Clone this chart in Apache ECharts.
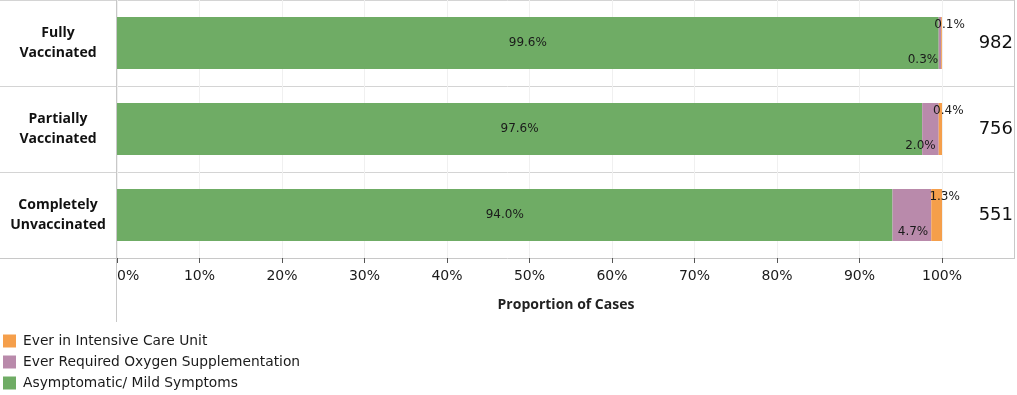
<!DOCTYPE html>
<html><head><meta charset="utf-8">
<script src="https://cdn.jsdelivr.net/npm/echarts@6/dist/echarts.min.js"></script>
<style>html,body{margin:0;padding:0;background:#fff}#c{width:1017px;height:395px}</style>
</head><body><div id="c"></div>
<script>
const categories = ['Fully Vaccinated', 'Partially Vaccinated', 'Completely Unvaccinated'];
const counts = [982, 756, 551];
const mild = [99.6, 97.6, 94.0];
const oxygen = [0.3, 2.0, 4.7];
const icu = [0.1, 0.4, 1.3];
const seriesNames = ['Asymptomatic/ Mild Symptoms', 'Ever Required Oxygen Supplementation', 'Ever in Intensive Care Unit'];
const legendOrder = ['Ever in Intensive Care Unit', 'Ever Required Oxygen Supplementation', 'Asymptomatic/ Mild Symptoms'];
const xTicks = [0, 10, 20, 30, 40, 50, 60, 70, 80, 90, 100];

const FONT = 'DejaVu Sans';
const BOLD = 'Open Sans';
const colors = { green: '#6fac65', purple: '#b98aab', orange: '#f59f4b' };
const lineCol = '#d4d4d4';

const chart = echarts.init(document.getElementById('c'), null, { renderer: 'canvas' });
const lbl = (v) => v.toFixed(1) + '%';

const hLine = (y, x1, x2, c) => ({ type: 'line', shape: { x1, y1: y, x2, y2: y }, style: { stroke: c || lineCol, lineWidth: 1 }, silent: true });
const vLine = (x, y1, y2, c) => ({ type: 'line', shape: { x1: x, y1, x2: x, y2 }, style: { stroke: c || lineCol, lineWidth: 1 }, silent: true });

chart.setOption({
  animation: false,
  textStyle: { fontFamily: FONT },
  title: {
    text: 'Proportion of Cases', left: 561, top: 293, textAlign: 'center',
    textStyle: { fontFamily: BOLD, fontSize: 14, fontWeight: 'bold', color: '#222' }
  },
  legend: {
    orient: 'vertical', left: 3, top: 334, padding: 0, itemWidth: 13, itemHeight: 13, itemGap: 7,
    icon: 'rect', data: legendOrder,
    textStyle: { fontFamily: FONT, fontSize: 13.8, color: '#1a1a1a', padding: [0, 0, 0, 2] }
  },
  grid: { left: 117, right: 75, top: 0, bottom: 137, containLabel: false },
  xAxis: {
    type: 'value', min: xTicks[0], max: xTicks[xTicks.length - 1], interval: 10,
    axisLine: { show: false },
    axisTick: { show: true, length: 5, lineStyle: { color: '#555' } },
    axisLabel: {
      formatter: v => v + '%', fontFamily: FONT, fontSize: 14, color: '#1a1a1a', margin: 11,
      alignMinLabel: 'left'
    },
    splitLine: { show: true, lineStyle: { color: '#f0f0f0' } }
  },
  yAxis: [{
    type: 'category', data: categories, inverse: true,
    axisLine: { show: false }, axisTick: { show: false }, splitLine: { show: false },
    axisLabel: {
      formatter: v => v.replace(' ', '\n'), align: 'center', margin: 59,
      fontFamily: BOLD, fontSize: 14, fontWeight: 'bold', color: '#111', lineHeight: 20,
      padding: [4, 0, 0, 0]
    }
  }, {
    type: 'category', data: categories, inverse: true, position: 'right',
    axisLine: { show: false }, axisTick: { show: false }, splitLine: { show: false },
    axisLabel: {
      formatter: (v, i) => String(counts[i]), align: 'right', margin: 71,
      fontFamily: FONT, fontSize: 18, color: '#111'
    }
  }],
  series: [{
    name: seriesNames[0], type: 'bar', stack: 's', barWidth: 52, data: mild,
    itemStyle: { color: colors.green },
    label: { show: true, position: 'inside', formatter: p => lbl(p.value), fontFamily: FONT, fontSize: 12, color: '#1a1a1a' }
  }, {
    name: seriesNames[1], type: 'bar', stack: 's', barWidth: 52, data: oxygen,
    itemStyle: { color: colors.purple },
    label: { show: true, position: 'insideBottomRight', distance: 3, formatter: p => lbl(p.value), fontFamily: FONT, fontSize: 12, color: '#1a1a1a' }
  }, {
    name: seriesNames[2], type: 'bar', stack: 's', barWidth: 52, data: icu,
    itemStyle: { color: colors.orange },
    label: { show: true, position: ['50%', 0], align: 'center', verticalAlign: 'top', offset: [8, 2], formatter: p => lbl(p.value), fontFamily: FONT, fontSize: 12, color: '#1a1a1a' }
  }],
  graphic: [
    hLine(0.5, 0, 1015),
    hLine(86.5, 0, 1015),
    hLine(172.5, 0, 1015),
    hLine(258.5, 0, 1015, '#c8c8c8'),
    vLine(116.5, 0, 322, '#c8c8c8'),
    vLine(1014.5, 0, 258, '#c8c8c8')
  ]
});
</script></body></html>
